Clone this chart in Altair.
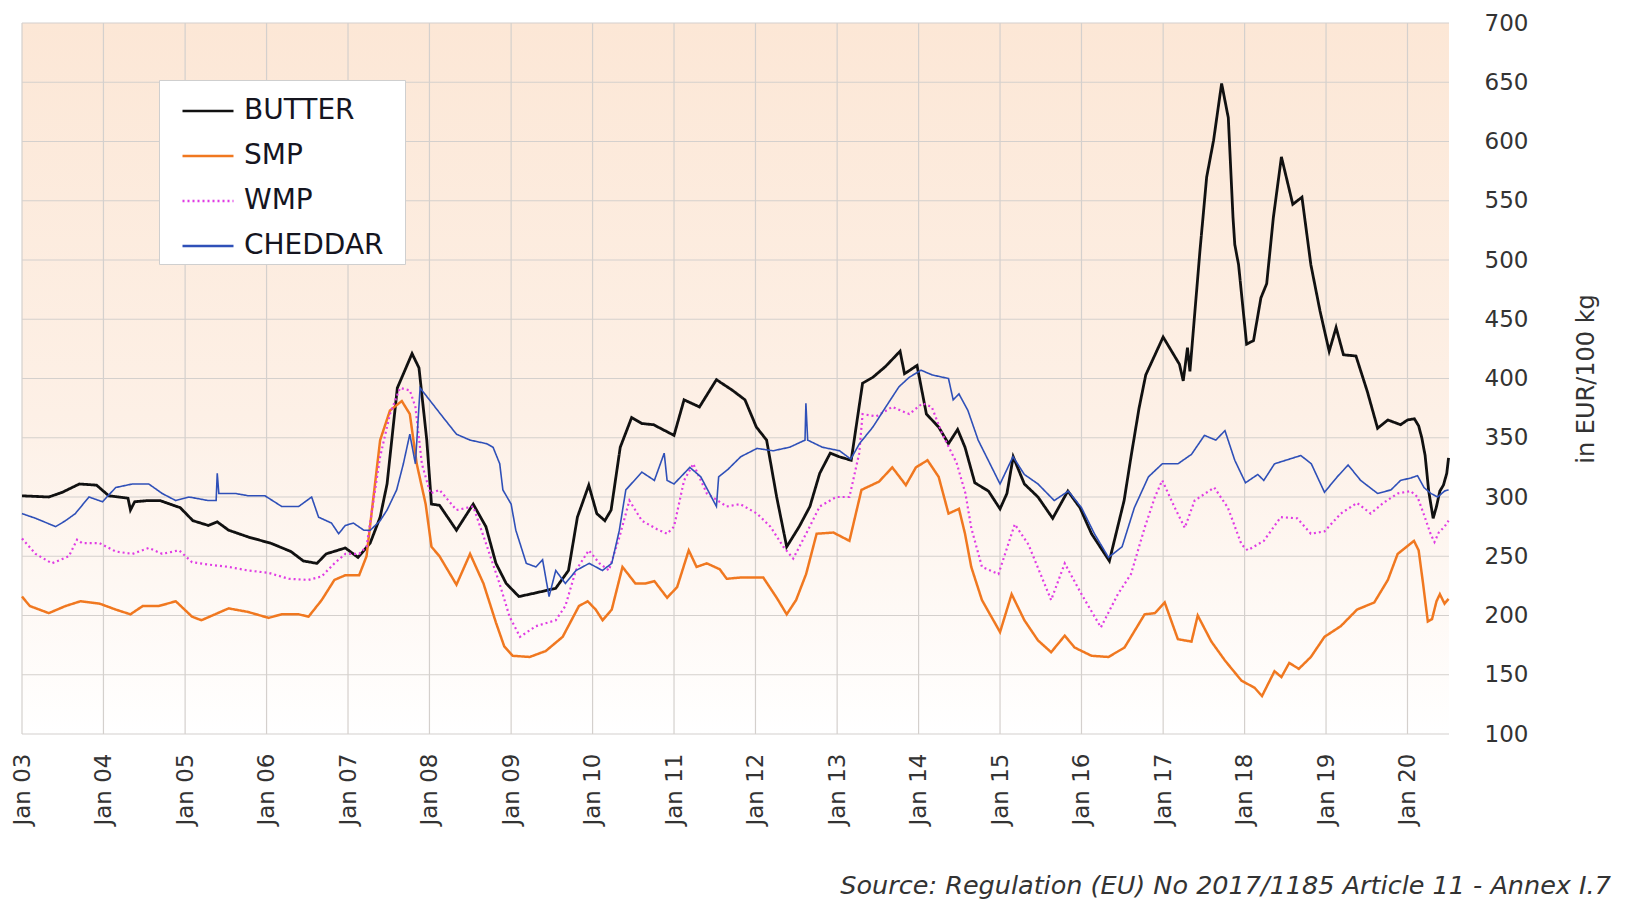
import altair as alt
import pandas as pd

SERIES = ["BUTTER", "SMP", "WMP", "CHEDDAR"]
COLORS = ["#111111", "#f07820", "#e03ce4", "#2f50b8"]
DASHES = [[1, 0], [1, 0], [2, 3], [1, 0]]
WIDTHS = [2.8, 2.5, 2.2, 1.6]

YEARS = [2003, 2004, 2005, 2006, 2007, 2008, 2009, 2010, 2011, 2012,
         2013, 2014, 2015, 2016, 2017, 2018, 2019, 2020]
Y_TICKS = [100, 150, 200, 250, 300, 350, 400, 450, 500, 550, 600, 650, 700]
X_START = "2003-01-01"
X_END = "2020-07-05"

butter_dates = [
    "2003-01-01", "2003-05-01", "2003-07-01", "2003-09-15", "2003-12-01", "2004-01-25",
    "2004-04-20", "2004-05-01", "2004-05-20", "2004-07-20", "2004-09-10", "2004-12-10",
    "2005-02-05", "2005-04-15", "2005-05-25", "2005-07-15", "2005-10-15", "2006-01-20",
    "2006-04-20", "2006-06-15", "2006-08-15", "2006-09-25", "2006-12-20", "2007-02-15",
    "2007-04-10", "2007-05-25", "2007-06-25", "2007-08-10", "2007-10-15", "2007-11-15",
    "2007-12-20", "2008-01-10", "2008-02-15", "2008-05-01", "2008-07-15", "2008-09-10",
    "2008-10-25", "2008-12-10", "2009-02-05", "2009-04-20", "2009-07-20", "2009-09-15",
    "2009-10-25", "2009-12-15", "2010-01-20", "2010-02-25", "2010-03-25", "2010-05-05",
    "2010-06-25", "2010-08-10", "2010-10-01", "2011-01-01", "2011-02-15", "2011-04-25",
    "2011-07-10", "2011-09-20", "2011-11-15", "2012-01-05", "2012-02-20", "2012-04-05",
    "2012-05-20", "2012-07-15", "2012-09-01", "2012-10-15", "2012-12-01", "2013-01-10",
    "2013-03-05", "2013-04-25", "2013-06-10", "2013-08-05", "2013-10-10", "2013-10-30",
    "2013-12-25", "2014-02-05", "2014-04-01", "2014-05-15", "2014-06-25", "2014-07-28",
    "2014-09-10", "2014-11-10", "2015-01-01", "2015-02-01", "2015-03-01", "2015-04-20",
    "2015-06-20", "2015-08-25", "2015-11-01", "2015-12-25", "2016-02-15", "2016-05-05",
    "2016-07-10", "2016-08-10", "2016-09-15", "2016-10-15", "2017-01-01", "2017-03-15",
    "2017-04-01", "2017-04-20", "2017-05-01", "2017-06-15", "2017-07-15", "2017-08-15",
    "2017-09-20", "2017-10-20", "2017-11-10", "2017-11-18", "2017-12-05", "2018-01-10",
    "2018-02-10", "2018-03-15", "2018-04-10", "2018-05-10", "2018-06-15", "2018-08-05",
    "2018-09-15", "2018-10-25", "2018-12-05", "2019-01-15", "2019-02-15", "2019-03-20",
    "2019-05-15", "2019-07-05", "2019-08-20", "2019-10-05", "2019-12-01", "2020-01-01",
    "2020-02-01", "2020-02-20", "2020-03-05", "2020-03-20", "2020-04-05", "2020-04-25",
    "2020-05-10", "2020-05-25", "2020-06-10", "2020-06-25", "2020-07-03",
]
butter_vals = [
    301, 300, 304, 311, 310, 301,
    299, 289, 296, 297, 297, 291,
    280, 276, 279, 272, 266, 261,
    254, 246, 244, 252, 257, 249,
    261, 283, 311, 392, 421, 409,
    348, 294, 293, 272, 294, 275,
    244, 227, 216, 219, 223, 238,
    283, 310, 286, 280, 289, 342,
    367, 362, 361, 352, 382, 376,
    399, 390, 382, 359, 348, 300,
    258, 275, 292, 320, 337, 334,
    331, 396, 401, 410, 423, 404,
    411, 370, 359, 345, 357, 342,
    312, 305, 290, 303, 334, 311,
    300, 282, 305, 291, 269, 246,
    297, 334, 375, 403, 435, 412,
    398, 426, 406, 508, 570, 601,
    649, 620, 536, 513, 496, 429,
    432, 468, 480, 536, 587, 547,
    553, 496, 457, 423, 443, 420,
    419, 389, 358, 365, 361, 365,
    366, 360, 350, 335, 305, 282,
    292, 305, 310, 320, 333,
]

smp_dates = [
    "2003-01-01", "2003-02-05", "2003-05-01", "2003-07-15", "2003-09-20", "2003-12-15",
    "2004-02-25", "2004-05-01", "2004-06-25", "2004-09-05", "2004-11-20", "2005-02-01",
    "2005-03-15", "2005-05-15", "2005-07-15", "2005-10-10", "2006-01-10", "2006-03-10",
    "2006-05-25", "2006-07-08", "2006-09-05", "2006-11-01", "2006-12-20", "2007-02-20",
    "2007-03-25", "2007-05-25", "2007-07-08", "2007-08-30", "2007-10-05", "2007-11-05",
    "2007-12-15", "2008-01-10", "2008-02-15", "2008-05-01", "2008-07-01", "2008-08-30",
    "2008-10-25", "2008-12-01", "2009-01-08", "2009-03-25", "2009-06-05", "2009-08-20",
    "2009-11-01", "2009-12-10", "2010-01-15", "2010-02-15", "2010-03-28", "2010-05-15",
    "2010-07-12", "2010-08-25", "2010-10-05", "2010-12-01", "2011-01-15", "2011-03-08",
    "2011-04-12", "2011-05-28", "2011-07-25", "2011-08-25", "2011-10-25", "2012-02-05",
    "2012-04-05", "2012-05-20", "2012-07-01", "2012-08-15", "2012-10-01", "2012-12-15",
    "2013-02-25", "2013-04-20", "2013-07-08", "2013-09-05", "2013-11-05", "2013-12-20",
    "2014-02-10", "2014-04-01", "2014-05-15", "2014-07-01", "2014-07-28", "2014-08-25",
    "2014-10-12", "2015-01-01", "2015-02-22", "2015-04-20", "2015-06-20", "2015-08-18",
    "2015-10-18", "2015-12-01", "2016-02-15", "2016-05-01", "2016-07-12", "2016-10-10",
    "2016-11-25", "2017-01-08", "2017-03-08", "2017-05-08", "2017-06-05", "2017-08-05",
    "2017-10-05", "2017-12-18", "2018-02-15", "2018-03-20", "2018-05-15", "2018-06-15",
    "2018-07-20", "2018-09-01", "2018-10-25", "2018-12-25", "2019-03-08", "2019-05-20",
    "2019-08-05", "2019-10-05", "2019-11-18", "2020-01-30", "2020-02-20", "2020-03-10",
    "2020-04-01", "2020-04-20", "2020-05-10", "2020-05-25", "2020-06-15", "2020-07-03",
]
smp_vals = [
    216, 208, 202, 208, 212, 210,
    205, 201, 208, 208, 212, 199,
    196, 201, 206, 203, 198, 201,
    201, 199, 213, 230, 234, 234,
    250, 348, 373, 381, 370, 328,
    294, 258, 250, 226, 252, 227,
    194, 174, 166, 165, 170, 182,
    208, 212, 205, 196, 205, 241,
    227, 227, 229, 215, 224, 255,
    241, 244, 239, 231, 232, 232,
    215, 201, 213, 235, 269, 270,
    263, 306, 313, 325, 310, 325,
    331, 317, 286, 290, 269, 241,
    213, 186, 218, 196, 179, 169,
    183, 173, 166, 165, 173, 201,
    202, 211, 180, 178, 200, 178,
    162, 145, 139, 132, 153, 148,
    160, 155, 165, 182, 191, 205,
    211, 230, 252, 263, 255, 228,
    195, 197, 212, 218, 210, 214,
]

wmp_dates = [
    "2003-01-01", "2003-03-03", "2003-05-15", "2003-07-30", "2003-09-05", "2003-09-28",
    "2003-12-15", "2004-02-25", "2004-05-10", "2004-07-22", "2004-09-20", "2004-12-05",
    "2005-02-01", "2005-04-15", "2005-07-15", "2005-10-10", "2006-01-10", "2006-04-10",
    "2006-07-08", "2006-09-05", "2006-11-01", "2006-12-20", "2007-02-20", "2007-03-25",
    "2007-05-25", "2007-07-08", "2007-08-22", "2007-10-05", "2007-10-30", "2007-11-28",
    "2008-01-05", "2008-02-15", "2008-05-01", "2008-07-15", "2008-09-10", "2008-11-10",
    "2008-12-25", "2009-02-10", "2009-04-22", "2009-07-20", "2009-09-01", "2009-10-18",
    "2009-12-15", "2010-02-01", "2010-03-15", "2010-05-01", "2010-06-15", "2010-08-10",
    "2010-10-15", "2010-12-01", "2011-01-01", "2011-02-15", "2011-03-28", "2011-05-28",
    "2011-08-25", "2011-10-25", "2012-01-08", "2012-03-08", "2012-05-05", "2012-06-18",
    "2012-08-15", "2012-10-15", "2012-12-28", "2013-02-25", "2013-04-10", "2013-04-25",
    "2013-06-25", "2013-09-05", "2013-11-20", "2014-01-18", "2014-03-01", "2014-04-15",
    "2014-06-20", "2014-07-30", "2014-08-25", "2014-10-12", "2014-12-25", "2015-03-08",
    "2015-05-08", "2015-08-18", "2015-10-18", "2016-01-01", "2016-03-28", "2016-06-12",
    "2016-08-10", "2016-10-10", "2016-11-25", "2016-12-28", "2017-02-22", "2017-04-08",
    "2017-05-22", "2017-08-18", "2017-10-18", "2017-12-18", "2018-01-15", "2018-03-28",
    "2018-06-12", "2018-08-25", "2018-10-25", "2018-12-25", "2019-03-08", "2019-05-20",
    "2019-07-20", "2019-09-15", "2019-11-18", "2020-01-15", "2020-02-15", "2020-03-15",
    "2020-04-15", "2020-05-01", "2020-05-20", "2020-06-15", "2020-07-03",
]
wmp_vals = [
    265, 252, 244, 250, 264, 261,
    261, 254, 252, 257, 252, 255,
    245, 243, 241, 238, 236, 231,
    230, 233, 244, 252, 252, 258,
    334, 370, 392, 390, 376, 328,
    303, 306, 289, 292, 261, 227,
    199, 182, 191, 196, 208, 238,
    255, 244, 238, 266, 297, 280,
    273, 269, 275, 314, 328, 303,
    292, 294, 286, 275, 258, 248,
    269, 292, 300, 300, 337, 370,
    368, 376, 370, 379, 376, 354,
    329, 303, 274, 241, 235, 277,
    260, 213, 244, 218, 190, 218,
    235, 274, 300, 314, 291, 274,
    297, 308, 291, 260, 255, 263,
    283, 282, 269, 271, 286, 295,
    286, 295, 303, 305, 300, 285,
    268, 262, 270, 275, 280,
]

cheddar_dates = [
    "2003-01-01", "2003-03-03", "2003-06-01", "2003-07-15", "2003-08-28", "2003-10-28",
    "2003-12-28", "2004-02-25", "2004-05-10", "2004-07-22", "2004-09-20", "2004-11-20",
    "2005-01-19", "2005-04-15", "2005-05-20", "2005-05-25", "2005-06-01", "2005-08-14",
    "2005-10-12", "2005-12-25", "2006-03-10", "2006-05-25", "2006-07-22", "2006-08-22",
    "2006-10-19", "2006-11-20", "2006-12-20", "2007-01-25", "2007-03-13", "2007-04-11",
    "2007-05-25", "2007-06-25", "2007-08-07", "2007-09-06", "2007-10-05", "2007-10-30",
    "2007-11-20", "2008-01-05", "2008-03-03", "2008-05-01", "2008-07-01", "2008-09-13",
    "2008-10-12", "2008-11-11", "2008-11-25", "2009-01-01", "2009-01-22", "2009-03-10",
    "2009-04-22", "2009-05-22", "2009-06-20", "2009-07-20", "2009-09-01", "2009-10-19",
    "2009-12-17", "2010-02-14", "2010-03-28", "2010-05-01", "2010-05-30", "2010-08-10",
    "2010-10-05", "2010-11-18", "2010-12-01", "2011-01-01", "2011-03-13", "2011-05-01",
    "2011-07-10", "2011-07-20", "2011-08-29", "2011-10-27", "2012-01-08", "2012-03-20",
    "2012-06-02", "2012-08-10", "2012-08-14", "2012-08-22", "2012-10-27", "2013-01-12",
    "2013-03-03", "2013-04-11", "2013-06-10", "2013-08-07", "2013-10-05", "2013-11-20",
    "2014-01-12", "2014-03-03", "2014-05-15", "2014-06-05", "2014-07-01", "2014-08-10",
    "2014-09-25", "2014-11-25", "2015-01-01", "2015-02-28", "2015-04-20", "2015-06-20",
    "2015-09-01", "2015-11-03", "2016-01-01", "2016-02-28", "2016-05-01", "2016-07-01",
    "2016-08-25", "2016-10-27", "2016-12-28", "2017-03-08", "2017-05-08", "2017-07-05",
    "2017-08-25", "2017-10-05", "2017-11-18", "2018-01-05", "2018-03-01", "2018-03-28",
    "2018-05-15", "2018-09-10", "2018-10-27", "2018-12-25", "2019-02-20", "2019-04-10",
    "2019-06-05", "2019-08-20", "2019-10-19", "2019-12-01", "2020-01-15", "2020-02-15",
    "2020-03-15", "2020-04-15", "2020-05-15", "2020-06-15", "2020-07-03",
]
cheddar_vals = [
    286, 282, 275, 280, 286, 300,
    296, 308, 311, 311, 303, 297,
    300, 297, 297, 320, 303, 303,
    301, 301, 292, 292, 300, 283,
    278, 269, 276, 278, 272, 272,
    280, 289, 306, 328, 353, 328,
    392, 381, 367, 353, 348, 345,
    342, 328, 306, 294, 272, 244,
    241, 247, 216, 238, 227, 238,
    244, 238, 244, 272, 306, 321,
    314, 337, 314, 311, 325, 317,
    292, 317, 323, 334, 341, 339,
    342, 348, 379, 348, 342, 339,
    332, 345, 359, 376, 393, 401,
    407, 403, 400, 382, 387, 373,
    348, 325, 311, 334, 319, 311,
    297, 305, 291, 269, 249, 258,
    291, 317, 328, 328, 336, 352,
    348, 356, 331, 312, 319, 314,
    328, 335, 328, 304, 317, 327,
    314, 303, 306, 314, 316, 318,
    308, 303, 300, 305, 306,
]

rows = []
for name, dates, vals in [
    ("BUTTER", butter_dates, butter_vals),
    ("SMP", smp_dates, smp_vals),
    ("WMP", wmp_dates, wmp_vals),
    ("CHEDDAR", cheddar_dates, cheddar_vals),
]:
    for d, v in zip(dates, vals):
        rows.append({"series": name, "date": d, "value": v})
df = pd.DataFrame(rows)

bg_df = pd.DataFrame({"x0": [X_START], "x1": [X_END], "y0": [Y_TICKS[-1]], "y1": [Y_TICKS[0]]})
year_df = pd.DataFrame({"d": [f"{y}-01-01" for y in YEARS]})
ytick_df = pd.DataFrame({"v": Y_TICKS})

GRID = "#d4d0cd"
FONT = "DejaVu Sans"

xscale = alt.Scale(type="utc", domain=[X_START, X_END], nice=False)
yscale = alt.Scale(domain=[Y_TICKS[0], Y_TICKS[-1]], nice=False)

xaxis = alt.Axis(
    title=None, values=[alt.DateTime(year=y, month=1, date=1, utc=True) for y in YEARS],
    format="%b %y", labelAngle=270, labelFontSize=23, labelFont=FONT, labelColor="#333333",
    labelPadding=19, ticks=False, domain=False, grid=False, labelFlush=False, labelOverlap=False,
)
yaxis = alt.Axis(
    title="in EUR/100 kg", orient="right", values=Y_TICKS, labelFontSize=23, labelFont=FONT,
    labelColor="#333333", labelPadding=35, ticks=False, domain=False, grid=False,
    titleFontSize=24, titleFont=FONT, titleFontWeight="normal", titleColor="#333333",
    titleAngle=270, titlePadding=71,
)


def X(field):
    return alt.X(f"{field}:T", scale=xscale, axis=xaxis)


def Y(field):
    return alt.Y(f"{field}:Q", scale=yscale, axis=yaxis)


bg = alt.Chart(bg_df).mark_rect(
    fill=alt.Gradient(
        gradient="linear",
        stops=[alt.GradientStop(color="#fce7d6", offset=0),
               alt.GradientStop(color="#fdf0e6", offset=0.55),
               alt.GradientStop(color="#ffffff", offset=1)],
        x1=0, x2=0, y1=0, y2=1,
    )
).encode(x=X("x0"), x2="x1:T", y=Y("y0"), y2="y1:Q")

vgrid = alt.Chart(year_df).mark_rule(color=GRID, strokeWidth=1.2).encode(x=X("d"))
hgrid = alt.Chart(ytick_df).mark_rule(color=GRID, strokeWidth=1.2).encode(y=Y("v"))

legend = alt.Legend(title=".", titleOrient="right", titleOpacity=0, titleFontSize=2,
                    titlePadding=16)
color = alt.Color("series:N", scale=alt.Scale(domain=SERIES, range=COLORS), legend=legend)
dash = alt.StrokeDash("series:N", scale=alt.Scale(domain=SERIES, range=DASHES), legend=legend)

lines = []
for s, w in zip(SERIES, WIDTHS):
    lines.append(
        alt.Chart(df).transform_filter(alt.datum.series == s)
        .mark_line(strokeWidth=w, interpolate="linear")
        .encode(x=X("date"), y=Y("value"), color=color, strokeDash=dash)
    )

chart = alt.layer(bg, vgrid, hgrid, *lines).properties(
    width=1427, height=711,
    padding={"left": 3, "top": 4, "right": 5, "bottom": 5},
    title=alt.TitleParams(
        text="Source: Regulation (EU) No 2017/1185 Article 11 - Annex I.7",
        orient="bottom", anchor="end", fontSize=25.5, font=FONT, fontStyle="italic",
        fontWeight="normal", color="#333333", offset=49, dx=12,
    ),
).configure_view(stroke=None).configure_legend(
    orient="none", legendX=137, legendY=57, fillColor="white", strokeColor="#cfcfcf",
    padding=4, symbolType="stroke", symbolSize=2601, symbolOffset=18, labelOffset=9,
    rowPadding=4, labelFontSize=28, labelFont=FONT, labelColor="#15151f",
    symbolStrokeWidth=2.4,
)

chart.save("out.html", embed_options={"renderer": "svg", "actions": False})
